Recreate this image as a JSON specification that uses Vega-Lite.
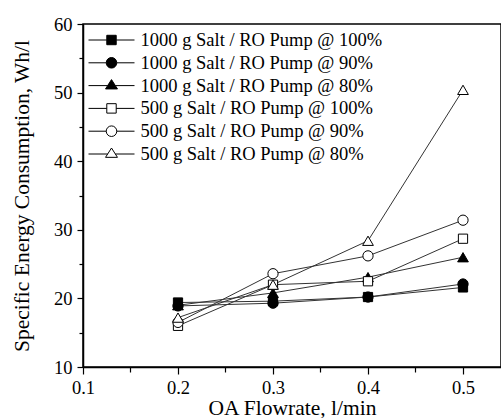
{
  "$schema": "https://vega.github.io/schema/vega-lite/v6.json",
  "autosize": {"type": "none"},
  "padding": {"left": 83, "top": 24, "right": 0, "bottom": 51},
  "width": 418,
  "height": 343,
  "background": "white",
  "config": {
    "view": {"stroke": "black", "strokeWidth": 1.5},
    "axis": {
      "labelFont": "Liberation Serif",
      "titleFont": "Liberation Serif",
      "labelColor": "black",
      "titleColor": "black",
      "titleFontWeight": "normal",
      "domainColor": "black",
      "domainWidth": 1.5,
      "tickColor": "black",
      "tickWidth": 1.2,
      "grid": false,
      "labelFontSize": 18.5,
      "titleFontSize": 21.5
    },
    "legend": {
      "labelFont": "Liberation Serif",
      "labelFontSize": 18.5,
      "labelColor": "black"
    }
  },
  "data": {
    "values": [
      {"series": "1000 g Salt / RO Pump @ 100%", "flow": 0.2, "sec": 19.4},
      {"series": "1000 g Salt / RO Pump @ 100%", "flow": 0.3, "sec": 19.6},
      {"series": "1000 g Salt / RO Pump @ 100%", "flow": 0.4, "sec": 20.2},
      {"series": "1000 g Salt / RO Pump @ 100%", "flow": 0.5, "sec": 21.6},
      {"series": "1000 g Salt / RO Pump @ 90%", "flow": 0.2, "sec": 18.9},
      {"series": "1000 g Salt / RO Pump @ 90%", "flow": 0.3, "sec": 19.3},
      {"series": "1000 g Salt / RO Pump @ 90%", "flow": 0.4, "sec": 20.2},
      {"series": "1000 g Salt / RO Pump @ 90%", "flow": 0.5, "sec": 22.1},
      {"series": "1000 g Salt / RO Pump @ 80%", "flow": 0.2, "sec": 19.0},
      {"series": "1000 g Salt / RO Pump @ 80%", "flow": 0.3, "sec": 20.8},
      {"series": "1000 g Salt / RO Pump @ 80%", "flow": 0.4, "sec": 23.1},
      {"series": "1000 g Salt / RO Pump @ 80%", "flow": 0.5, "sec": 26.0},
      {"series": "500 g Salt / RO Pump @ 100%", "flow": 0.2, "sec": 16.0},
      {"series": "500 g Salt / RO Pump @ 100%", "flow": 0.3, "sec": 22.0},
      {"series": "500 g Salt / RO Pump @ 100%", "flow": 0.4, "sec": 22.5},
      {"series": "500 g Salt / RO Pump @ 100%", "flow": 0.5, "sec": 28.7},
      {"series": "500 g Salt / RO Pump @ 90%", "flow": 0.2, "sec": 16.5},
      {"series": "500 g Salt / RO Pump @ 90%", "flow": 0.3, "sec": 23.6},
      {"series": "500 g Salt / RO Pump @ 90%", "flow": 0.4, "sec": 26.2},
      {"series": "500 g Salt / RO Pump @ 90%", "flow": 0.5, "sec": 31.4},
      {"series": "500 g Salt / RO Pump @ 80%", "flow": 0.2, "sec": 17.2},
      {"series": "500 g Salt / RO Pump @ 80%", "flow": 0.3, "sec": 22.0},
      {"series": "500 g Salt / RO Pump @ 80%", "flow": 0.4, "sec": 28.4},
      {"series": "500 g Salt / RO Pump @ 80%", "flow": 0.5, "sec": 50.4}
    ]
  },
  "encoding": {
    "x": {
      "field": "flow", "type": "quantitative",
      "scale": {"domain": [0.1, 0.54], "nice": false, "zero": false},
      "axis": {
        "title": "OA Flowrate, l/min",
        "values": [0.1, 0.15, 0.2, 0.25, 0.3, 0.35, 0.4, 0.45, 0.5],
        "labelExpr": "abs(datum.value*10 - round(datum.value*10)) < 0.001 ? format(datum.value, '.1f') : ''",
        "tickSize": {"condition": {"test": "abs(datum.value*10 - round(datum.value*10)) < 0.001", "value": 7}, "value": 5},
        "labelPadding": 4,
        "titlePadding": 1,
        "labelFlush": false
      }
    },
    "y": {
      "field": "sec", "type": "quantitative",
      "scale": {"domain": [10, 60], "nice": false, "zero": false},
      "axis": {
        "title": "Specific Energy Consumption, Wh/l",
        "values": [10, 15, 20, 25, 30, 35, 40, 45, 50, 55, 60],
        "labelExpr": "datum.value % 10 === 0 ? datum.label : ''",
        "tickSize": {"condition": {"test": "datum.value % 10 === 0", "value": 6}, "value": 4},
        "labelPadding": 5,
        "titlePadding": 20.5,
        "labelFlush": false
      }
    }
  },
  "layer": [
    {
      "mark": {"type": "line", "color": "#333333", "strokeWidth": 1},
      "encoding": {"detail": {"field": "series"}}
    },
    {
      "mark": {"type": "point", "filled": false, "stroke": "black", "strokeWidth": 1, "opacity": 1},
      "encoding": {
        "shape": {
          "condition": [
            {"test": "indexof(datum.series, '@ 100%') >= 0", "value": "square"},
            {"test": "indexof(datum.series, '@ 90%') >= 0", "value": "circle"}
          ],
          "value": "triangle-up"
        },
        "size": {
          "condition": [
            {"test": "indexof(datum.series, '@ 100%') >= 0", "value": 85},
            {"test": "indexof(datum.series, '@ 90%') >= 0", "value": 105}
          ],
          "value": 115
        },
        "fill": {
          "condition": {"test": "indexof(datum.series, '1000') === 0", "value": "black"},
          "value": "white"
        }
      }
    },
    {
      "mark": {"type": "point", "stroke": "black", "strokeWidth": 1, "size": 0, "opacity": 1},
      "encoding": {
        "shape": {
          "field": "series", "type": "nominal",
          "scale": {
            "domain": ["1000 g Salt / RO Pump @ 100%", "1000 g Salt / RO Pump @ 90%", "1000 g Salt / RO Pump @ 80%", "500 g Salt / RO Pump @ 100%", "500 g Salt / RO Pump @ 90%", "500 g Salt / RO Pump @ 80%"],
            "range": [
              "M-2,0H-0.41M0.41,0H2M-0.41,-0.41H0.41V0.41H-0.41Z",
              "M-2,0H-0.46M0.46,0H2M-0.46,0A0.46,0.46 0 1,0 0.46,0A0.46,0.46 0 1,0 -0.46,0Z",
              "M-2,0H-0.33M0.33,0H2M0,-0.52L0.52,0.29H-0.52Z",
              "M-2,0H-0.41M0.41,0H2M-0.41,-0.41H0.41V0.41H-0.41Z",
              "M-2,0H-0.46M0.46,0H2M-0.46,0A0.46,0.46 0 1,0 0.46,0A0.46,0.46 0 1,0 -0.46,0Z",
              "M-2,0H-0.33M0.33,0H2M0,-0.52L0.52,0.29H-0.52Z"
            ]
          },
          "legend": {
            "title": null,
            "orient": "none",
            "legendX": 16.5,
            "legendY": 4,
            "padding": 0,
            "symbolSize": 529,
            "symbolStrokeColor": "black",
            "symbolStrokeWidth": 1,
            "rowPadding": 0.8,
            "labelOffset": 17,
            "labelLimit": 400,
            "encoding": {
              "symbols": {
                "size": {"value": 529},
                "stroke": {"value": "black"},
                "strokeWidth": {"value": 1},
                "opacity": {"value": 1},
                "fill": {"condition": {"test": "indexof(datum.label, '1000') === 0", "value": "black"}, "value": "white"}
              }
            }
          }
        }
      }
    }
  ]
}
